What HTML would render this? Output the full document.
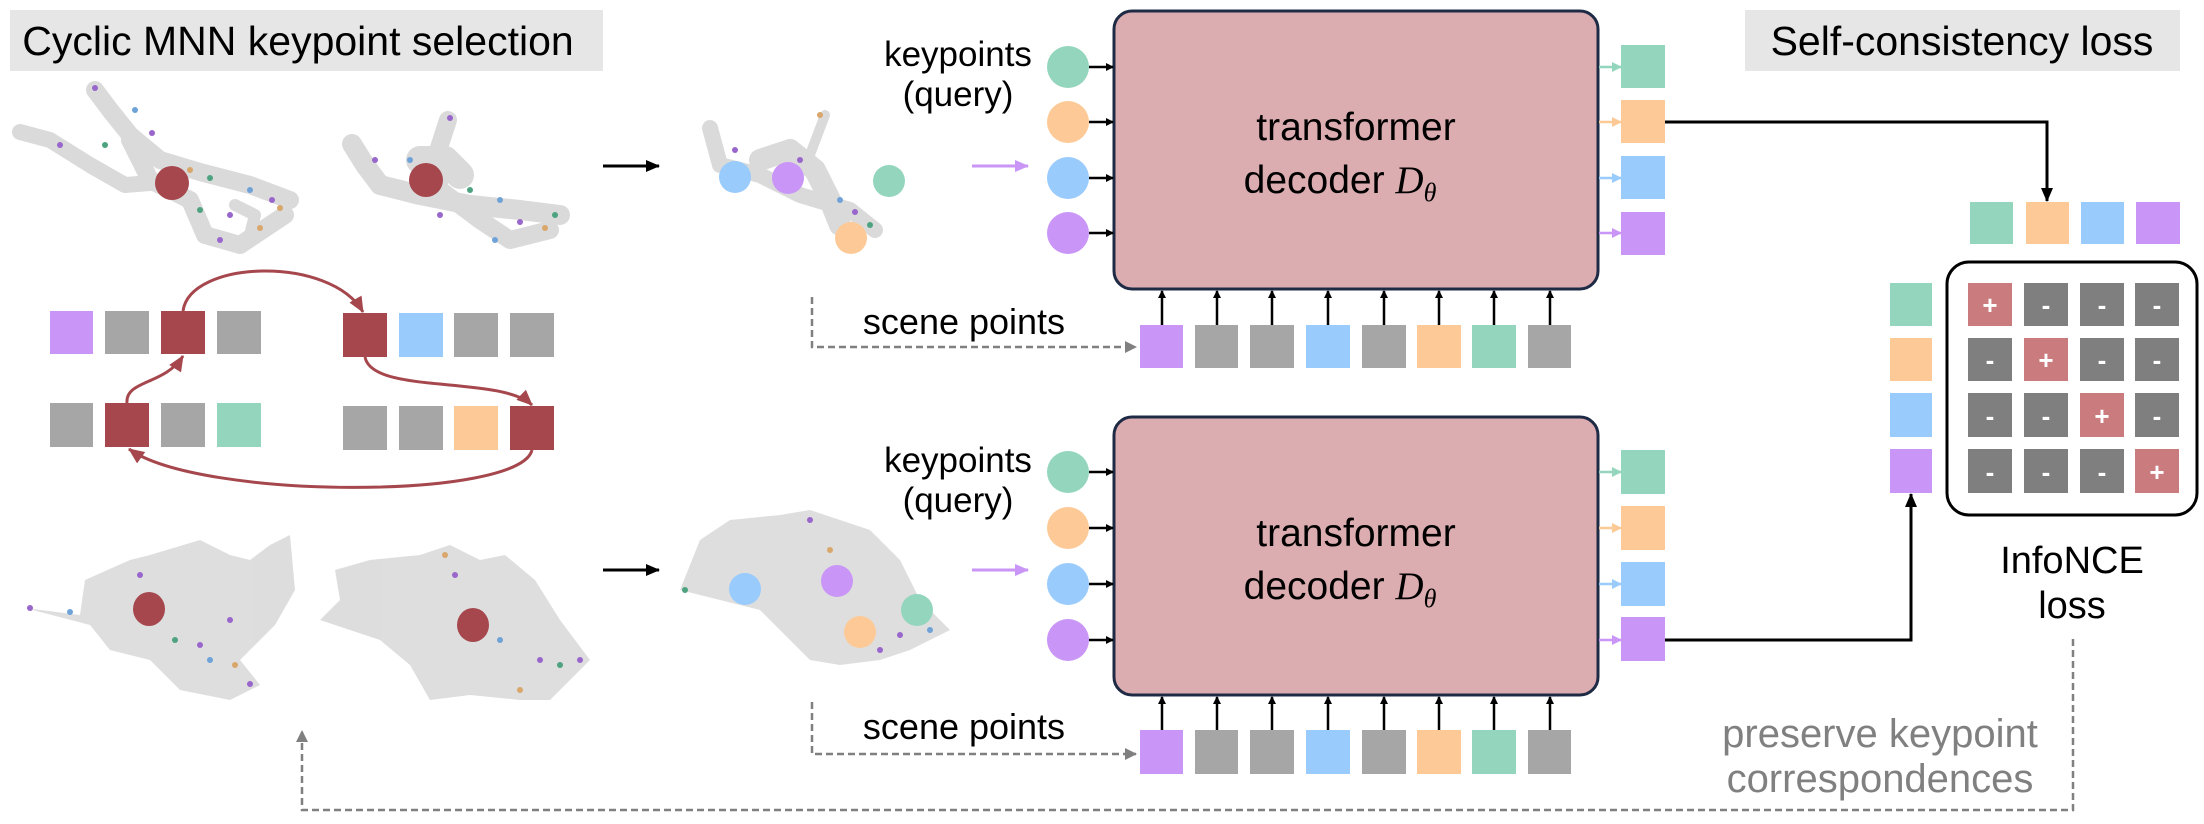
<!DOCTYPE html>
<html><head><meta charset="utf-8"><style>
html,body{margin:0;padding:0;background:#fff;}
svg{display:block;}
text{font-family:"Liberation Sans",Arial,sans-serif;}
</style></head><body>
<svg width="2204" height="824" viewBox="0 0 2204 824" xmlns="http://www.w3.org/2000/svg">
<defs>
<marker id="ab" markerWidth="8" markerHeight="8" refX="7" refY="4" orient="auto" markerUnits="userSpaceOnUse"><path d="M0,0 L8,4 L0,8 z" fill="#000"/></marker>
<marker id="ag" markerWidth="12" markerHeight="12" refX="11" refY="6" orient="auto" markerUnits="userSpaceOnUse"><path d="M0,0 L12,6 L0,12 z" fill="#808080"/></marker>
<marker id="ar" markerWidth="16" markerHeight="14" refX="15" refY="7" orient="auto" markerUnits="userSpaceOnUse"><path d="M0,0 L16,7 L0,14 z" fill="#a5474d"/></marker>
<marker id="ab2" markerWidth="14" markerHeight="12" refX="13" refY="6" orient="auto" markerUnits="userSpaceOnUse"><path d="M0,0 L14,6 L0,12 z" fill="#000"/></marker>
<marker id="apu" markerWidth="14" markerHeight="12" refX="13" refY="6" orient="auto" markerUnits="userSpaceOnUse"><path d="M0,0 L14,6 L0,12 z" fill="#c995f7"/></marker>
<marker id="mg" markerWidth="10" markerHeight="10" refX="9" refY="5" orient="auto" markerUnits="userSpaceOnUse"><path d="M0,0 L10,5 L0,10 z" fill="#93d5bd"/></marker>
<marker id="mo" markerWidth="10" markerHeight="10" refX="9" refY="5" orient="auto" markerUnits="userSpaceOnUse"><path d="M0,0 L10,5 L0,10 z" fill="#fdca97"/></marker>
<marker id="mb" markerWidth="10" markerHeight="10" refX="9" refY="5" orient="auto" markerUnits="userSpaceOnUse"><path d="M0,0 L10,5 L0,10 z" fill="#99cbfc"/></marker>
<marker id="mp" markerWidth="10" markerHeight="10" refX="9" refY="5" orient="auto" markerUnits="userSpaceOnUse"><path d="M0,0 L10,5 L0,10 z" fill="#c995f7"/></marker>
</defs>

<!-- titles -->
<rect x="10" y="10" width="593" height="61" fill="#e6e6e6"/>
<text x="298" y="55" font-size="41" text-anchor="middle">Cyclic MNN keypoint selection</text>
<rect x="1745" y="10" width="435" height="61" fill="#e6e6e6"/>
<text x="1962" y="55" font-size="41" text-anchor="middle">Self-consistency loss</text>

<!-- point clouds top -->
<g fill="none" stroke="#d6d6d6" stroke-linecap="round" stroke-linejoin="round" opacity="0.9">
<path d="M20,132 L50,140 L90,165 L125,185 L150,183" stroke-width="16"/>
<path d="M95,90 L110,110 L130,135 L160,160 L200,172 L250,185 L290,200" stroke-width="18"/>
<path d="M130,140 L150,180 L190,200 L205,235 L240,245 L270,225 L285,215" stroke-width="18"/>
<path d="M235,205 L255,215 L250,235" stroke-width="12"/>
<path d="M352,144 L365,165 L380,185 L420,195 L470,205 L520,210 L560,215" stroke-width="20"/>
<path d="M448,120 L435,160 L440,190 L480,220 L510,240 L550,230" stroke-width="18"/>
<path d="M420,160 L445,160 L460,175" stroke-width="28"/>
<path d="M710,128 L720,165 L760,175 L800,195 L850,210 L875,230" stroke-width="16"/>
<path d="M825,115 L808,160 L790,180" stroke-width="10"/>
<path d="M760,160 L790,150 L815,170 L830,200 L840,225" stroke-width="22"/>
</g>
<g>
<circle cx="60" cy="145" r="3" fill="#9966cc"/><circle cx="105" cy="145" r="3" fill="#4da37f"/><circle cx="135" cy="110" r="3" fill="#6fa3d8"/><circle cx="152" cy="133" r="3" fill="#9966cc"/><circle cx="190" cy="170" r="3" fill="#d9a66b"/><circle cx="210" cy="178" r="3" fill="#4da37f"/><circle cx="230" cy="215" r="3" fill="#9966cc"/><circle cx="250" cy="190" r="3" fill="#6fa3d8"/><circle cx="272" cy="200" r="3" fill="#9966cc"/><circle cx="220" cy="240" r="3" fill="#9966cc"/><circle cx="260" cy="228" r="3" fill="#d9a66b"/><circle cx="200" cy="210" r="3" fill="#4da37f"/><circle cx="95" cy="88" r="3" fill="#9966cc"/><circle cx="280" cy="208" r="3" fill="#d9a66b"/>
<circle cx="375" cy="160" r="3" fill="#9966cc"/><circle cx="450" cy="118" r="3" fill="#9966cc"/><circle cx="470" cy="190" r="3" fill="#4da37f"/><circle cx="500" cy="200" r="3" fill="#6fa3d8"/><circle cx="520" cy="222" r="3" fill="#9966cc"/><circle cx="545" cy="228" r="3" fill="#d9a66b"/><circle cx="555" cy="215" r="3" fill="#4da37f"/><circle cx="440" cy="215" r="3" fill="#9966cc"/><circle cx="495" cy="240" r="3" fill="#6fa3d8"/><circle cx="410" cy="160" r="3" fill="#6fa3d8"/>
<circle cx="735" cy="150" r="3" fill="#9966cc"/><circle cx="820" cy="115" r="3" fill="#d9a66b"/><circle cx="855" cy="212" r="3" fill="#9966cc"/><circle cx="870" cy="225" r="3" fill="#4da37f"/><circle cx="800" cy="160" r="3" fill="#9966cc"/><circle cx="840" cy="200" r="3" fill="#6fa3d8"/>
</g>
<ellipse cx="172" cy="183" rx="17" ry="17" fill="#a5474d"/>
<ellipse cx="426" cy="180" rx="17" ry="17" fill="#a5474d"/>
<circle cx="735" cy="177" r="16" fill="#99cbfc"/><circle cx="788" cy="178" r="16" fill="#c995f7"/><circle cx="889" cy="181" r="16" fill="#93d5bd"/><circle cx="851" cy="238" r="16" fill="#fdca97"/>
<line x1="603" y1="166" x2="659" y2="166" stroke="#000" stroke-width="3" marker-end="url(#ab2)"/>
<line x1="972" y1="166" x2="1028" y2="166" stroke="#c995f7" stroke-width="3" marker-end="url(#apu)"/>

<!-- point clouds bottom -->
<g fill="#d8d8d8" opacity="0.85">
<path d="M25,608 L80,615 L85,580 L130,560 L150,555 L200,540 L230,555 L250,560 L270,545 L290,535 L295,590 L275,625 L240,660 L260,685 L230,700 L180,690 L150,660 L110,650 L90,625 Z"/>
<path d="M320,620 L340,600 L335,570 L370,560 L420,555 L450,545 L480,560 L505,555 L535,580 L560,620 L590,660 L550,700 L520,700 L470,695 L430,700 L410,665 L380,640 Z"/>
<path d="M680,590 L700,540 L730,520 L780,515 L810,510 L840,520 L870,530 L900,560 L920,600 L950,630 L910,650 L880,660 L840,665 L810,660 L790,640 L760,610 L720,600 Z"/>
</g>
<g>
<circle cx="30" cy="608" r="3" fill="#9966cc"/><circle cx="70" cy="612" r="3" fill="#6fa3d8"/><circle cx="140" cy="575" r="3" fill="#9966cc"/><circle cx="175" cy="640" r="3" fill="#4da37f"/><circle cx="200" cy="645" r="3" fill="#9966cc"/><circle cx="235" cy="665" r="3" fill="#d9a66b"/><circle cx="250" cy="684" r="3" fill="#9966cc"/><circle cx="210" cy="660" r="3" fill="#6fa3d8"/><circle cx="230" cy="620" r="3" fill="#9966cc"/>
<circle cx="445" cy="555" r="3" fill="#d9a66b"/><circle cx="455" cy="575" r="3" fill="#9966cc"/><circle cx="500" cy="640" r="3" fill="#6fa3d8"/><circle cx="540" cy="660" r="3" fill="#9966cc"/><circle cx="560" cy="665" r="3" fill="#4da37f"/><circle cx="580" cy="660" r="3" fill="#9966cc"/><circle cx="520" cy="690" r="3" fill="#d9a66b"/>
<circle cx="810" cy="520" r="3" fill="#9966cc"/><circle cx="830" cy="550" r="3" fill="#d9a66b"/><circle cx="900" cy="635" r="3" fill="#9966cc"/><circle cx="930" cy="630" r="3" fill="#6fa3d8"/><circle cx="880" cy="650" r="3" fill="#9966cc"/><circle cx="685" cy="590" r="3" fill="#4da37f"/>
</g>
<ellipse cx="149" cy="609" rx="16" ry="17" fill="#a5474d"/>
<ellipse cx="473" cy="625" rx="16" ry="17" fill="#a5474d"/>
<circle cx="745" cy="589" r="16" fill="#99cbfc"/><circle cx="837" cy="581" r="16" fill="#c995f7"/><circle cx="917" cy="610" r="16" fill="#93d5bd"/><circle cx="860" cy="632" r="16" fill="#fdca97"/>
<line x1="603" y1="570" x2="659" y2="570" stroke="#000" stroke-width="3" marker-end="url(#ab2)"/>
<line x1="972" y1="570" x2="1028" y2="570" stroke="#c995f7" stroke-width="3" marker-end="url(#apu)"/>

<!-- MNN squares -->
<g>
<rect x="50" y="311" width="43" height="43" fill="#c995f7"/><rect x="105" y="311" width="44" height="43" fill="#a6a6a6"/><rect x="161" y="311" width="44" height="43" fill="#a5474d"/><rect x="217" y="311" width="44" height="43" fill="#a6a6a6"/>
<rect x="343" y="313" width="44" height="44" fill="#a5474d"/><rect x="399" y="313" width="44" height="44" fill="#99cbfc"/><rect x="454" y="313" width="44" height="44" fill="#a6a6a6"/><rect x="510" y="313" width="44" height="44" fill="#a6a6a6"/>
<rect x="50" y="403" width="43" height="44" fill="#a6a6a6"/><rect x="105" y="403" width="44" height="44" fill="#a5474d"/><rect x="161" y="403" width="44" height="44" fill="#a6a6a6"/><rect x="217" y="403" width="44" height="44" fill="#93d5bd"/>
<rect x="343" y="406" width="44" height="44" fill="#a6a6a6"/><rect x="399" y="406" width="44" height="44" fill="#a6a6a6"/><rect x="454" y="406" width="44" height="44" fill="#fdca97"/><rect x="510" y="406" width="44" height="44" fill="#a5474d"/>
</g>
<g fill="none" stroke="#a5474d" stroke-width="3">
<path d="M183,311 C190,260 330,255 363,312" marker-end="url(#ar)"/>
<path d="M365,357 C372,395 500,375 532,405" marker-end="url(#ar)"/>
<path d="M127,403 C125,380 165,385 183,356" marker-end="url(#ar)"/>
<path d="M532,450 C520,500 200,500 129,449" marker-end="url(#ar)"/>
</g>

<!-- decoder blocks -->
<rect x="1114" y="11" width="484" height="278" rx="18" fill="#dcadb0" stroke="#1f2a44" stroke-width="3"/>
<text x="1356" y="140" font-size="39" text-anchor="middle">transformer</text>
<text x="1340" y="193" font-size="39" text-anchor="middle">decoder <tspan font-family="Liberation Serif,serif" font-style="italic">D</tspan><tspan font-family="Liberation Serif,serif" font-style="italic" font-size="26" dy="8">θ</tspan></text>
<rect x="1114" y="417" width="484" height="278" rx="18" fill="#dcadb0" stroke="#1f2a44" stroke-width="3"/>
<text x="1356" y="546" font-size="39" text-anchor="middle">transformer</text>
<text x="1340" y="599" font-size="39" text-anchor="middle">decoder <tspan font-family="Liberation Serif,serif" font-style="italic">D</tspan><tspan font-family="Liberation Serif,serif" font-style="italic" font-size="26" dy="8">θ</tspan></text>

<!-- keypoints query -->
<text x="958" y="66" font-size="35" text-anchor="middle">keypoints</text>
<text x="958" y="106" font-size="35" text-anchor="middle">(query)</text>
<text x="958" y="472" font-size="35" text-anchor="middle">keypoints</text>
<text x="958" y="512" font-size="35" text-anchor="middle">(query)</text>
<g>
<circle cx="1068" cy="67" r="21" fill="#93d5bd"/><circle cx="1068" cy="122" r="21" fill="#fdca97"/><circle cx="1068" cy="178" r="21" fill="#99cbfc"/><circle cx="1068" cy="233" r="21" fill="#c995f7"/>
<circle cx="1068" cy="472" r="21" fill="#93d5bd"/><circle cx="1068" cy="528" r="21" fill="#fdca97"/><circle cx="1068" cy="584" r="21" fill="#99cbfc"/><circle cx="1068" cy="640" r="21" fill="#c995f7"/>
</g>
<g stroke="#000" stroke-width="2.5" marker-end="url(#ab)">
<line x1="1089" y1="67" x2="1113" y2="67"/><line x1="1089" y1="122" x2="1113" y2="122"/><line x1="1089" y1="178" x2="1113" y2="178"/><line x1="1089" y1="233" x2="1113" y2="233"/>
<line x1="1089" y1="472" x2="1113" y2="472"/><line x1="1089" y1="528" x2="1113" y2="528"/><line x1="1089" y1="584" x2="1113" y2="584"/><line x1="1089" y1="640" x2="1113" y2="640"/>
</g>

<!-- output squares -->
<g stroke-width="2.5">
<line x1="1599" y1="67" x2="1621" y2="67" stroke="#93d5bd" marker-end="url(#mg)"/><line x1="1599" y1="122" x2="1621" y2="122" stroke="#fdca97" marker-end="url(#mo)"/><line x1="1599" y1="178" x2="1621" y2="178" stroke="#99cbfc" marker-end="url(#mb)"/><line x1="1599" y1="233" x2="1621" y2="233" stroke="#c995f7" marker-end="url(#mp)"/>
<line x1="1599" y1="472" x2="1621" y2="472" stroke="#93d5bd" marker-end="url(#mg)"/><line x1="1599" y1="528" x2="1621" y2="528" stroke="#fdca97" marker-end="url(#mo)"/><line x1="1599" y1="584" x2="1621" y2="584" stroke="#99cbfc" marker-end="url(#mb)"/><line x1="1599" y1="640" x2="1621" y2="640" stroke="#c995f7" marker-end="url(#mp)"/>
</g>
<rect x="1621" y="45" width="44" height="43" fill="#93d5bd"/><rect x="1621" y="100" width="44" height="43" fill="#fdca97"/><rect x="1621" y="156" width="44" height="43" fill="#99cbfc"/><rect x="1621" y="212" width="44" height="43" fill="#c995f7"/>
<rect x="1621" y="450" width="44" height="44" fill="#93d5bd"/><rect x="1621" y="506" width="44" height="44" fill="#fdca97"/><rect x="1621" y="562" width="44" height="44" fill="#99cbfc"/><rect x="1621" y="617" width="44" height="44" fill="#c995f7"/>

<!-- scene points -->
<text x="964" y="334" font-size="36" text-anchor="middle">scene points</text>
<text x="964" y="739" font-size="36" text-anchor="middle">scene points</text>
<g fill="none" stroke="#808080" stroke-width="2.5" stroke-dasharray="7,4">
<path d="M812,297 L812,347 L1136,347" marker-end="url(#ag)"/>
<path d="M812,702 L812,754 L1136,754" marker-end="url(#ag)"/>
</g>
<g>
<rect x="1140" y="325" width="43" height="43" fill="#c995f7"/><rect x="1195" y="325" width="43" height="43" fill="#a6a6a6"/><rect x="1250" y="325" width="44" height="43" fill="#a6a6a6"/><rect x="1306" y="325" width="44" height="43" fill="#99cbfc"/><rect x="1362" y="325" width="44" height="43" fill="#a6a6a6"/><rect x="1417" y="325" width="44" height="43" fill="#fdca97"/><rect x="1472" y="325" width="44" height="43" fill="#93d5bd"/><rect x="1528" y="325" width="43" height="43" fill="#a6a6a6"/>
<rect x="1140" y="730" width="43" height="44" fill="#c995f7"/><rect x="1195" y="730" width="43" height="44" fill="#a6a6a6"/><rect x="1250" y="730" width="44" height="44" fill="#a6a6a6"/><rect x="1306" y="730" width="44" height="44" fill="#99cbfc"/><rect x="1362" y="730" width="44" height="44" fill="#a6a6a6"/><rect x="1417" y="730" width="44" height="44" fill="#fdca97"/><rect x="1472" y="730" width="44" height="44" fill="#93d5bd"/><rect x="1528" y="730" width="43" height="44" fill="#a6a6a6"/>
</g>
<g stroke="#000" stroke-width="2.5" marker-end="url(#ab)">
<line x1="1162" y1="325" x2="1162" y2="291"/><line x1="1217" y1="325" x2="1217" y2="291"/><line x1="1272" y1="325" x2="1272" y2="291"/><line x1="1328" y1="325" x2="1328" y2="291"/><line x1="1384" y1="325" x2="1384" y2="291"/><line x1="1439" y1="325" x2="1439" y2="291"/><line x1="1494" y1="325" x2="1494" y2="291"/><line x1="1550" y1="325" x2="1550" y2="291"/>
<line x1="1162" y1="730" x2="1162" y2="697"/><line x1="1217" y1="730" x2="1217" y2="697"/><line x1="1272" y1="730" x2="1272" y2="697"/><line x1="1328" y1="730" x2="1328" y2="697"/><line x1="1384" y1="730" x2="1384" y2="697"/><line x1="1439" y1="730" x2="1439" y2="697"/><line x1="1494" y1="730" x2="1494" y2="697"/><line x1="1550" y1="730" x2="1550" y2="697"/>
</g>

<!-- loss side -->
<path d="M1665,122 L2047,122 L2047,201" fill="none" stroke="#000" stroke-width="3" marker-end="url(#ab2)"/>
<path d="M1665,640 L1911,640 L1911,494" fill="none" stroke="#000" stroke-width="3" marker-end="url(#ab2)"/>
<rect x="1970" y="202" width="43" height="42" fill="#93d5bd"/><rect x="2026" y="202" width="43" height="42" fill="#fdca97"/><rect x="2081" y="202" width="43" height="42" fill="#99cbfc"/><rect x="2136" y="202" width="44" height="42" fill="#c995f7"/>
<rect x="1890" y="283" width="42" height="43" fill="#93d5bd"/><rect x="1890" y="338" width="42" height="43" fill="#fdca97"/><rect x="1890" y="393" width="42" height="44" fill="#99cbfc"/><rect x="1890" y="449" width="42" height="44" fill="#c995f7"/>
<rect x="1947" y="262" width="250" height="253" rx="22" fill="#fff" stroke="#000" stroke-width="3"/>
<g font-size="26" fill="#fff" text-anchor="middle" font-weight="bold">
<rect x="1968" y="283" width="44" height="43" fill="#c97b7e"/><rect x="2024" y="283" width="44" height="43" fill="#7f7f7f"/><rect x="2080" y="283" width="44" height="43" fill="#7f7f7f"/><rect x="2135" y="283" width="44" height="43" fill="#7f7f7f"/>
<rect x="1968" y="338" width="44" height="43" fill="#7f7f7f"/><rect x="2024" y="338" width="44" height="43" fill="#c97b7e"/><rect x="2080" y="338" width="44" height="43" fill="#7f7f7f"/><rect x="2135" y="338" width="44" height="43" fill="#7f7f7f"/>
<rect x="1968" y="393" width="44" height="44" fill="#7f7f7f"/><rect x="2024" y="393" width="44" height="44" fill="#7f7f7f"/><rect x="2080" y="393" width="44" height="44" fill="#c97b7e"/><rect x="2135" y="393" width="44" height="44" fill="#7f7f7f"/>
<rect x="1968" y="449" width="44" height="44" fill="#7f7f7f"/><rect x="2024" y="449" width="44" height="44" fill="#7f7f7f"/><rect x="2080" y="449" width="44" height="44" fill="#7f7f7f"/><rect x="2135" y="449" width="44" height="44" fill="#c97b7e"/>
<text x="1990" y="314">+</text><text x="2046" y="314">-</text><text x="2102" y="314">-</text><text x="2157" y="314">-</text>
<text x="1990" y="369">-</text><text x="2046" y="369">+</text><text x="2102" y="369">-</text><text x="2157" y="369">-</text>
<text x="1990" y="425">-</text><text x="2046" y="425">-</text><text x="2102" y="425">+</text><text x="2157" y="425">-</text>
<text x="1990" y="481">-</text><text x="2046" y="481">-</text><text x="2102" y="481">-</text><text x="2157" y="481">+</text>
</g>
<text x="2072" y="573" font-size="38" text-anchor="middle">InfoNCE</text>
<text x="2072" y="618" font-size="38" text-anchor="middle">loss</text>

<!-- bottom feedback -->
<path d="M2073,639 L2073,810 L302,810 L302,731" fill="none" stroke="#808080" stroke-width="2.5" stroke-dasharray="7,4" marker-end="url(#ag)"/>
<text x="1880" y="747" font-size="40" fill="#808080" text-anchor="middle">preserve keypoint</text>
<text x="1880" y="792" font-size="40" fill="#808080" text-anchor="middle">correspondences</text>
</svg>
</body></html>
